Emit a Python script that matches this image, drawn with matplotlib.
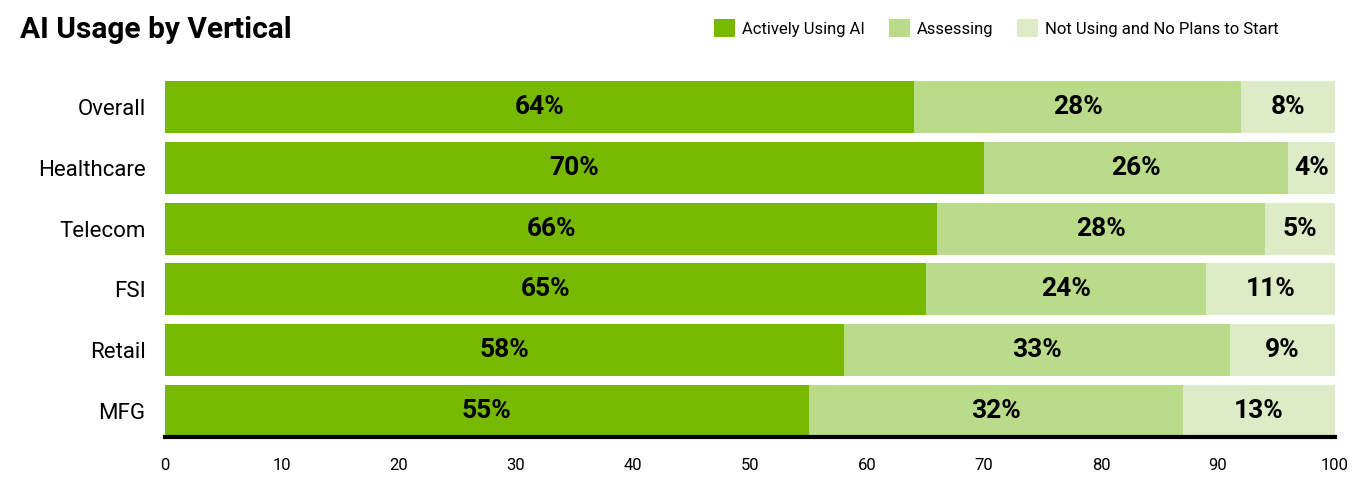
import matplotlib.pyplot as plt
from matplotlib.patches import Patch

# === DATA ===
verticals = ["Overall", "Healthcare", "Telecom", "FSI", "Retail", "MFG"]
active = [64, 70, 66, 65, 58, 55]
assessing = [28, 26, 28, 24, 33, 32]
not_using = [8, 4, 5, 11, 9, 13]
series_names = ["Actively Using AI", "Assessing", "Not Using and No Plans to Start"]
x_ticks = [0, 10, 20, 30, 40, 50, 60, 70, 80, 90, 100]

COLORS = ["#76b900", "#badc8a", "#ddebc6"]
FONT = "Roboto"

plt.rcParams["font.family"] = [FONT, "DejaVu Sans"]

fig = plt.figure(figsize=(13.58, 4.95), dpi=100)
ax = fig.add_axes([165 / 1358, 1 - 437 / 495, 1170 / 1358, 356 / 495])

ypos = list(range(len(verticals)))
h = 0.86
left2 = [a + b for a, b in zip(active, assessing)]
# the last segment fills the row out to 100 like the source chart does
widths3 = [100 - l for l in left2]

ax.barh(ypos, active, height=h, color=COLORS[0], linewidth=0)
ax.barh(ypos, assessing, left=active, height=h, color=COLORS[1], linewidth=0)
ax.barh(ypos, widths3, left=left2, height=h, color=COLORS[2], linewidth=0)

# === value labels ===
for i in ypos:
    segs = [(0, active[i], active[i]), (active[i], assessing[i], assessing[i]),
            (left2[i], widths3[i], not_using[i])]
    for left, w, val in segs:
        ax.text(left + w / 2, i, f"{val}%", ha="center", va="center",
                fontsize=19, fontweight="bold", color="black")

ax.set_xlim(0, 100)
ax.set_ylim(len(verticals) - 1 + h / 2, -h / 2)
ax.set_yticks(ypos)
ax.set_yticklabels(verticals, fontsize=16)
ax.set_xticks(x_ticks)
ax.set_xticklabels([str(t) for t in x_ticks], fontsize=12)
ax.tick_params(axis="both", length=0)
ax.tick_params(axis="y", pad=14)
ax.tick_params(axis="x", pad=15)

for s in ["top", "right", "left"]:
    ax.spines[s].set_visible(False)
ax.spines["bottom"].set_linewidth(3)
ax.spines["bottom"].set_color("black")

# === title + legend ===
fig.text(20 / 1358, 1 - 30 / 495, "AI Usage by Vertical", fontsize=21.5,
         fontweight="bold", va="center", ha="left")

handles = [Patch(facecolor=c, edgecolor="none") for c in COLORS]
fig.legend(handles, series_names, loc="center right",
           bbox_to_anchor=(1279 / 1358, 1 - 28 / 495), ncol=3, frameon=False,
           fontsize=12, handlelength=1.26, handleheight=1.32, handletextpad=0.42,
           columnspacing=1.44, borderaxespad=0, borderpad=0)

fig.savefig("out.png", dpi=100, facecolor="white")
